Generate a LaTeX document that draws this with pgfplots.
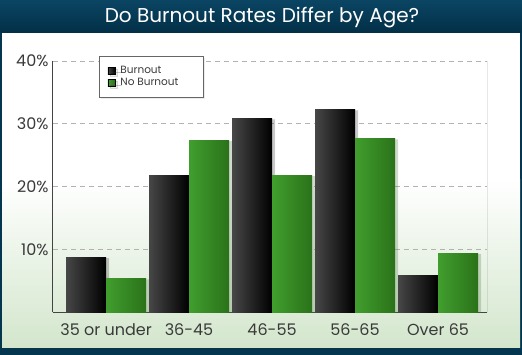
\documentclass[border=0pt]{standalone}
\usepackage{pgfplots}
\pgfplotsset{compat=1.18}
\usepackage{fontspec}
\setmainfont{Poppins}
\usetikzlibrary{shadows}
\definecolor{frame}{HTML}{053650}
\definecolor{titletop}{HTML}{0A4563}
\definecolor{titlebot}{HTML}{032F47}
\definecolor{panelgreen}{HTML}{D3E6CC}
\definecolor{blkL}{HTML}{474747}
\definecolor{blkR}{HTML}{000000}
\definecolor{grnL}{HTML}{419E2E}
\definecolor{grnR}{HTML}{2A7219}
\definecolor{txt}{HTML}{3A3A3A}
\definecolor{axl}{HTML}{444444}
\pgfplotsset{
  blk/.style={ybar, bar width=40pt, bar shift=-20pt, draw=none, left color=blkL, right color=blkR,
    drop shadow={shadow xshift=3pt, shadow yshift=-1pt, opacity=0.15}, forget plot},
  grn/.style={ybar, bar width=40pt, bar shift=20pt, draw=none, left color=grnL, right color=grnR,
    drop shadow={shadow xshift=3pt, shadow yshift=-1pt, opacity=0.15}, forget plot},
}
\begin{document}
\begin{tikzpicture}[x=1pt,y=1pt]
\useasboundingbox (0,0) rectangle (522,355);
\fill[frame] (0,0) rectangle (522,355);
\shade[top color=titletop, bottom color=titlebot] (0,322) rectangle (522,355);
\fill[white] (2,175) rectangle (520,322);
\shade[top color=white, bottom color=panelgreen] (2,7) rectangle (520,175.5);
\node[white, font=\fontsize{20}{22}\selectfont] at (262,337) {Do Burnout Rates Differ by Age?};
\begin{axis}[
  at={(53pt,42.7pt)}, anchor=south west,
  scale only axis, width=434pt, height=251.3pt,
  xmin=-0.639, xmax=4.59, ymin=0, ymax=40,
  xtick={0,1,2,3,4},
  xticklabels={35 or under,36-45,46-55,56-65,Over 65},
  ytick={10,20,30,40},
  /pgf/number format/assume math mode=true,
  yticklabel={\pgfmathprintnumber{\tick}\%},
  major tick length=0pt,
  ymajorgrids,
  grid style={dash pattern=on 5pt off 4pt, draw=gray!60, line width=0.9pt},
  axis x line*=bottom, axis y line*=left,
  axis line style={draw=axl, line width=1pt},
  x axis line style={-}, y axis line style={-},
  yticklabel style={font=\fontsize{16}{18}\selectfont, text=txt, xshift=-1pt},
  xticklabel style={font=\fontsize{16}{18}\selectfont, text=txt, yshift=-8pt},
  legend cell align=left,
  legend style={at={(0.105,1.02)}, anchor=north west, draw=gray!80!black, fill=white,
    font=\fontsize{10.5}{12}\selectfont, text=txt, inner xsep=9pt, inner ysep=8.5pt,
    row sep=0.5pt,
    drop shadow={shadow xshift=2pt, shadow yshift=-2pt, opacity=0.15},
    nodes={inner sep=1.5pt}},
]
\addplot[blk] coordinates {(0,8.8)};
\addplot[blk] coordinates {(1,21.8)};
\addplot[blk] coordinates {(2,30.8)};
\addplot[blk] coordinates {(3,32.2)};
\addplot[blk] coordinates {(4,5.9)};
\addplot[grn] coordinates {(0,5.3)};
\addplot[grn] coordinates {(1,27.4)};
\addplot[grn] coordinates {(2,21.8)};
\addplot[grn] coordinates {(3,27.6)};
\addplot[grn] coordinates {(4,9.4)};
\addlegendimage{legend image code/.code={\path[left color=blkL, right color=blkR] (0pt,-3.5pt) rectangle (7pt,3.5pt); \path[draw=none, fill=none] (0pt,0pt) rectangle (11pt,0.1pt);}}
\addlegendimage{legend image code/.code={\path[left color=grnL, right color=grnR] (0pt,-3.5pt) rectangle (7pt,3.5pt); \path[draw=none, fill=none] (0pt,0pt) rectangle (11pt,0.1pt);}}
\legend{\makebox[72pt][l]{Burnout}, \makebox[72pt][l]{No Burnout}}
\draw[draw=axl, line width=1pt] (rel axis cs:1,0) -- (rel axis cs:1,1);
\end{axis}
\end{tikzpicture}
\end{document}
